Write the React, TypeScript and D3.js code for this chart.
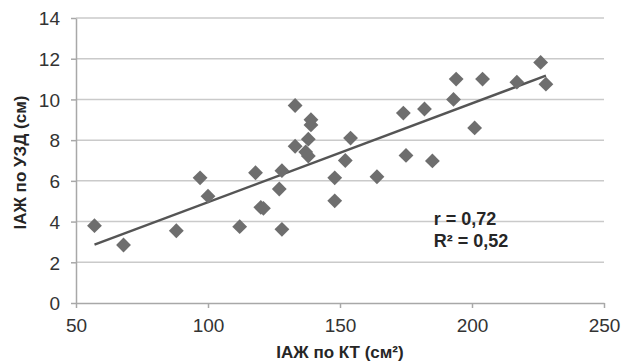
import React, { useRef, useEffect } from "react";
import * as d3 from "d3";

// IАЖ по КТ (см²) vs IАЖ по УЗД (см)
const ctValues = [57, 68, 88, 97, 100, 112, 118, 120, 121, 127, 128, 128, 133, 133, 138, 137, 138, 139, 139, 148, 148, 152, 154, 164, 174, 175, 182, 185, 193, 194, 201, 204, 217, 226, 228];
const usValues = [3.8, 2.85, 3.55, 6.15, 5.25, 3.75, 6.4, 4.7, 4.65, 5.6, 3.62, 6.5, 9.7, 7.7, 7.22, 7.42, 8.05, 8.75, 9.0, 6.15, 5.02, 7.0, 8.1, 6.2, 9.33, 7.25, 9.53, 6.98, 10.0, 11.0, 8.6, 11.0, 10.85, 11.82, 10.75];
const xTicks = [50, 100, 150, 200, 250];
const yTicks = [0, 2, 4, 6, 8, 10, 12, 14];
const statLines = ["r = 0,72", "R² = 0,52"];

const App = () => {
    const ref = useRef(null);

    useEffect(() => {
        const svgWidth = 623;
        const svgHeight = 362;
        const margin = { top: 18, right: 19, bottom: 59, left: 76 };
        const gridColor = "#cacaca";
        const axisColor = "#a8a8a8";
        const fontColor = "#333333";
        const markerColor = "#6e6e6e";
        const lineColor = "#555555";
        const font = "'Liberation Sans', Arial, sans-serif";

        const svg = d3.select(ref.current)
            .attr("width", svgWidth)
            .attr("height", svgHeight);
        svg.selectAll("*").remove();

        svg.append("rect").attr("width", svgWidth).attr("height", svgHeight).attr("fill", "#ffffff");

        const xScale = d3.scaleLinear().domain([50, 250]).range([margin.left, svgWidth - margin.right]);
        const yScale = d3.scaleLinear().domain([0, 14]).range([svgHeight - margin.bottom, margin.top]);

        // horizontal grid
        svg.append("g")
            .selectAll("line")
            .data(yTicks.filter(d => d > 0))
            .join("line")
            .attr("x1", xScale(50))
            .attr("x2", xScale(250))
            .attr("y1", d => yScale(d))
            .attr("y2", d => yScale(d))
            .attr("stroke", gridColor)
            .attr("stroke-width", 1.5);

        // axes
        const xAxis = svg.append("g")
            .attr("transform", `translate(0,${yScale(0)})`)
            .call(d3.axisBottom(xScale).tickValues(xTicks).tickSize(5).tickPadding(10).tickSizeOuter(0));
        const yAxis = svg.append("g")
            .attr("transform", `translate(${xScale(50)},0)`)
            .call(d3.axisLeft(yScale).tickValues(yTicks).tickSize(5).tickPadding(11).tickSizeOuter(0));

        [xAxis, yAxis].forEach(ax => {
            ax.select(".domain").attr("stroke", axisColor).attr("stroke-width", 1.5);
            ax.selectAll(".tick line").attr("stroke", axisColor).attr("stroke-width", 1.5);
            ax.selectAll(".tick text")
                .attr("fill", fontColor)
                .style("font-family", font)
                .style("font-size", "19px");
        });
        yAxis.selectAll(".tick text").attr("dy", "0.36em");
        xAxis.selectAll(".tick text").attr("dy", "0.72em");

        // trend line (least squares)
        const pts = ctValues.map((x, i) => ({ x, y: usValues[i] }));
        const mx = d3.mean(pts, d => d.x);
        const my = d3.mean(pts, d => d.y);
        const slope = d3.sum(pts, d => (d.x - mx) * (d.y - my)) / d3.sum(pts, d => (d.x - mx) ** 2);
        const icpt = my - slope * mx;
        const [x0, x1] = d3.extent(ctValues);
        svg.append("path")
            .datum([x0, x1])
            .attr("fill", "none")
            .attr("stroke", lineColor)
            .attr("stroke-width", 2.5)
            .attr("d", d3.line().x(d => xScale(d)).y(d => yScale(icpt + slope * d)));

        // diamonds
        svg.append("g")
            .selectAll("path")
            .data(pts)
            .join("path")
            .attr("transform", d => `translate(${xScale(d.x)},${yScale(d.y)}) rotate(45)`)
            .attr("d", d3.symbol().type(d3.symbolSquare).size(110))
            .attr("fill", markerColor);

        // r / R² annotation
        svg.append("g")
            .selectAll("text")
            .data(statLines)
            .join("text")
            .attr("x", xScale(185.5))
            .attr("y", (d, i) => yScale(3.85) + i * 22)
            .text(d => d)
            .attr("fill", "#262626")
            .style("font-family", font)
            .style("font-weight", "bold")
            .style("font-size", "18px");

        // axis titles
        svg.append("text")
            .attr("x", xScale(150))
            .attr("y", svgHeight - 4)
            .attr("text-anchor", "middle")
            .text("ІАЖ по КТ (см²)")
            .attr("fill", "#262626")
            .style("font-family", font)
            .style("font-weight", "bold")
            .style("font-size", "17px");

        svg.append("text")
            .attr("transform", `translate(26,${yScale(6.9)}) rotate(-90)`)
            .attr("text-anchor", "middle")
            .text("ІАЖ по УЗД (см)")
            .attr("fill", "#262626")
            .style("font-family", font)
            .style("font-weight", "bold")
            .style("font-size", "17px");
    }, []);

    return (
        <div style={{ position: "absolute", left: 0, top: 0 }}>
            <svg ref={ref} style={{ display: "block" }}></svg>
        </div>
    );
};

export default App;
